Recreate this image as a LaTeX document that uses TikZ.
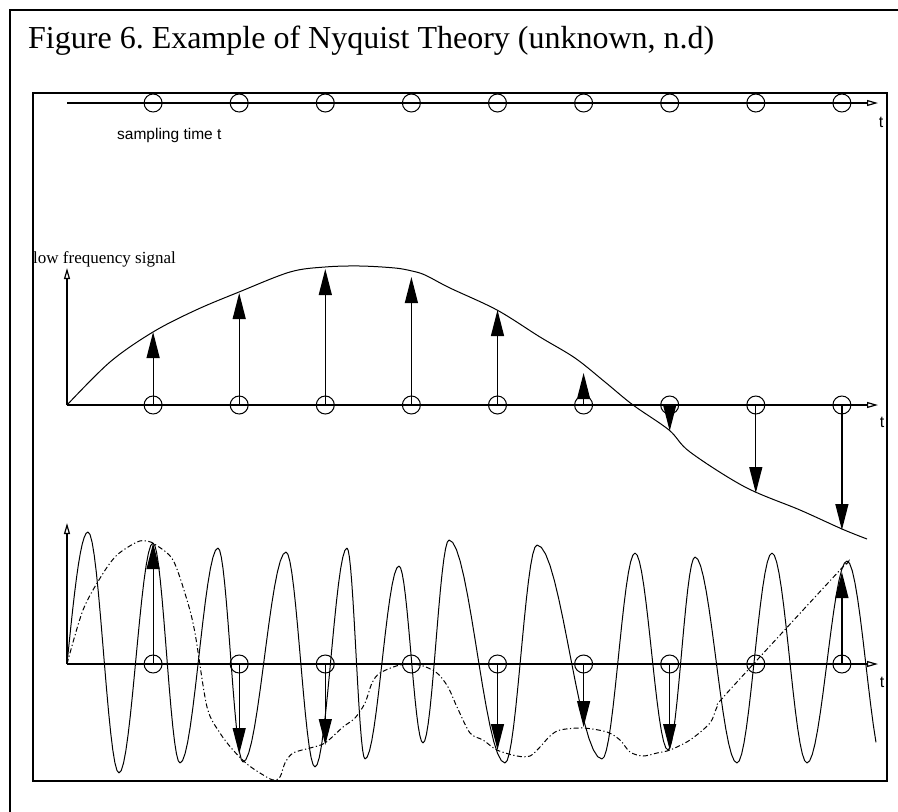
\documentclass[tikz,border=0pt]{standalone}
\usepackage{fontspec}
\setmainfont{Liberation Serif}
\setsansfont{Liberation Sans}
\usetikzlibrary{arrows.meta}
\frenchspacing

\begin{document}
\begin{tikzpicture}[
    x=1pt, y=-1pt,
    frame/.style={line width=1.6pt},
    axis/.style={line width=1.2pt, -{Triangle[open, length=11pt, width=6pt]}},
    sample/.style={circle, draw, line width=1pt, minimum size=18pt, inner sep=0pt},
    stem/.style={line width=1.2pt, -{Triangle[length=26pt, width=13pt]}},
    sig/.style={line width=1pt},
    alias/.style={line width=1pt, dash pattern=on 5pt off 2.5pt on 1.2pt off 2.5pt},
    tlbl/.style={font=\sffamily\fontsize{16}{18}\selectfont, inner sep=0pt, anchor=base}
]
    \useasboundingbox (0,0) rectangle (898,812);
    \draw[frame] (10,10) rectangle (910,830);
    \node[font=\fontsize{32}{38}\selectfont, inner sep=0pt, anchor=base west] (title) at (28,48) {Figure 6. Example of Nyquist Theory (unknown, n.d)};
    \draw[frame] (33,93) rectangle (887,781);

    % sampling times
    \draw[axis] (67,103) -- (878,103);
    \node[tlbl] (ttop) at (881,127) {t};
    \node[font=\sffamily\fontsize{15.5}{18}\selectfont, inner sep=0pt, anchor=base west] (stime) at (117,139) {sampling time t};

    % low frequency signal
    \draw[axis] (67,405) -- (878,405);
    \draw[axis] (67,405) -- (67,268);
    \node[tlbl] (tmid) at (882,427) {t};
    \node[font=\fontsize{17}{20}\selectfont, inner sep=0pt, anchor=base west] (low) at (33,263) {low frequency signal};
    \draw[sig] plot[smooth, tension=0.55] coordinates {(67,405) (110,362) (153,332) (196,310) (239,292) (290,272) (325,267) (360,266) (395,268) (412,271) (425,275) (450,288) (497,310) (540,337) (575,358) (605,382) (633,405) (669,430) (690,452) (745,487) (800,510) (842,529) (867,539)};

    % high frequency signal
    \draw[axis] (67,664) -- (878,664);
    \draw[axis] (67,664) -- (67,523);
    \node[tlbl] (tbot) at (882,687) {t};
    \draw[sig] plot[domain=0:1, samples=12] ({67+21*\x},{664-132*sin(90*\x)});
    \foreach \xb/\yb [remember=\xb as \xa (initially 88), remember=\yb as \ya (initially 532)] in
        {119/773,153/543,180/763,218/548,243/762,286/552,315/767,347/548,365/759,399/566,423/743,
         449/540,505/763,537/545,602/759,635/553,668/750,695/557,737/763,772/553,807/763,847/561}
        \draw[sig] plot[domain=0:1, samples=16] ({\xa+(\xb-\xa)*\x},{\ya+(\yb-\ya)*(1-cos(180*\x))/2});
    \draw[sig] plot[domain=0:0.763, samples=12] ({847+38*\x},{561+209*(1-cos(180*\x))/2});
    \draw[alias] plot[smooth, tension=0.5] coordinates {(67,664) (83,610) (102,575) (117,555) (137,542)
        (147,541) (156,545) (173,560) (187,600) (195,633) (207,707) (220,733) (233,750) (247,764)
        (260,773) (273,780) (280,777) (285,763) (293,753) (310,748) (325,743) (343,727) (355,718)
        (365,703) (372,683) (380,673) (400,665) (420,665) (437,673) (448,687) (457,707) (470,733)
        (483,740) (497,750) (517,756) (530,756) (540,747) (550,736) (560,730) (583,728) (607,732)
        (620,740) (630,752) (643,756) (657,753) (670,750) (690,740) (710,723) (717,707) (727,693)
        (840,570) (845,566)};

    % samples and stems
    \foreach \i in {1,...,9} {
        \node[sample] (t\i) at (67+86.1*\i,103) {};
        \node[sample] (m\i) at (67+86.1*\i,405) {};
        \node[sample] (b\i) at (67+86.1*\i,664) {};
    }
    \foreach \i/\y in {1/332,2/293,3/269,4/277,5/310,6/373,7/431,8/493,9/530} {
        \coordinate (mtip\i) at (67+86.1*\i,\y);
        \draw[stem] (m\i.center) -- (mtip\i);
    }
    \foreach \i/\y in {1/543,2/754,3/745,5/750,6/727,7/750,9/572} {
        \coordinate (btip\i) at (67+86.1*\i,\y);
        \draw[stem] (b\i.center) -- (btip\i);
    }
\end{tikzpicture}
\end{document}
